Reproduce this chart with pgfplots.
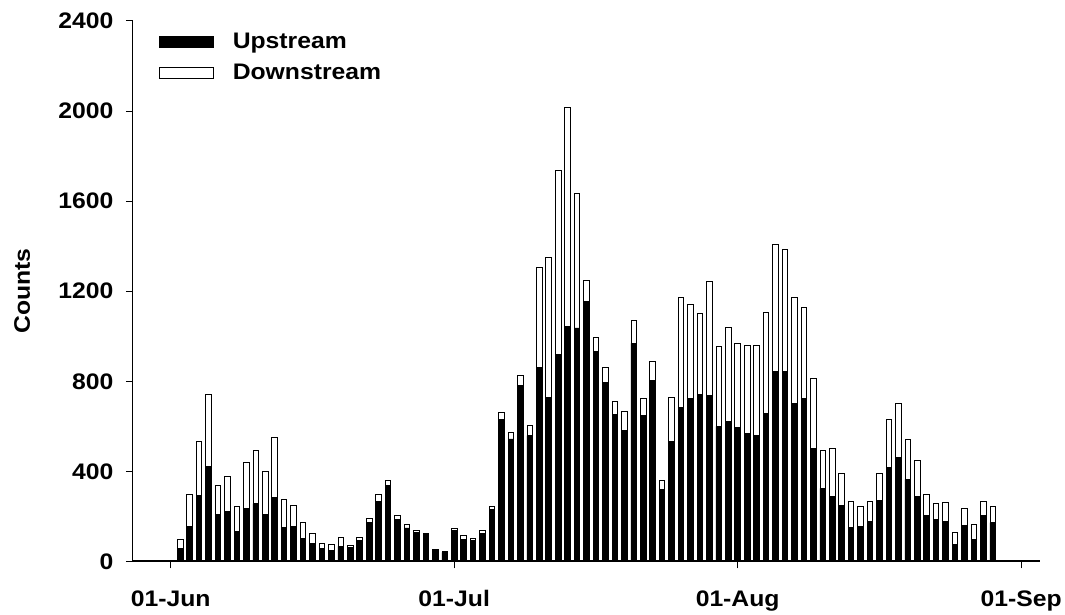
\documentclass[border=0pt]{standalone}
\usepackage{fontspec}
\setmainfont{Liberation Sans}[FakeStretch=1.1]
\usepackage{pgfplots}
\usepackage{pgfplotstable}
\pgfplotsset{compat=1.18}
\pgfplotstableread{
d up down
1 58 42
2 157 139
3 293 239
4 421 320
5 208 132
6 222 155
7 133 111
8 237 204
9 257 235
10 208 190
11 285 268
12 152 123
13 157 90
14 102 70
15 80 43
16 58 22
17 50 24
18 67 42
19 64 7
20 93 12
21 172 20
22 266 34
23 336 25
24 186 17
25 149 14
26 127 9
27 120 3
28 52 1
29 41 6
30 139 7
31 98 16
32 95 8
33 124 12
34 231 14
35 630 32
36 544 27
37 781 47
38 559 47
39 861 445
40 727 624
41 918 819
42 1042 973
43 1037 598
44 1153 93
45 932 65
46 796 65
47 652 59
48 583 82
49 969 102
50 649 77
51 804 85
52 319 39
53 532 195
54 685 486
55 725 417
56 741 362
57 736 509
58 600 355
59 621 420
60 595 373
61 568 393
62 559 402
63 658 450
64 843 566
65 843 543
66 702 472
67 723 407
68 501 312
69 325 170
70 290 210
71 247 142
72 151 115
73 157 88
74 179 88
75 272 117
76 418 213
77 461 243
78 365 179
79 290 159
80 206 94
81 188 68
82 177 85
83 74 53
84 161 73
85 98 65
86 204 64
87 173 71
}\data
\newcommand{\lblfont}{\fontsize{22.5bp}{26bp}\selectfont\bfseries}
\begin{document}
\begin{tikzpicture}
\begin{axis}[
  name=ax,
  scale only axis, width=908bp, height=541bp,
  xmin=-4, xmax=92, ymin=0, ymax=2400,
  enlargelimits=false,
  axis x line=bottom, axis y line=left,
  axis line style={-, black},
  x axis line style={line width=2bp},
  y axis line style={line width=1bp},
  tick align=outside, major tick length=7bp,
  tick style={line width=1bp, black},
  xtick={0,30,60,90},
  xticklabels={01-Jun,01-Jul,01-Aug,01-Sep},
  ytick={0,400,...,2400},
  /pgf/number format/assume math mode=true,
  /pgf/number format/1000 sep={},
  ticklabel style={font=\lblfont},
  xticklabel style={anchor=base, yshift=-38bp},
  yticklabel style={anchor=east, xshift=-9bp},
  ylabel={Counts},
  ylabel style={font=\lblfont, at={(axis description cs:-0.1222,0.5)}, anchor=center},
  ybar stacked, bar width=5.6bp,
  legend style={at={(axis description cs:0,1)}, anchor=north west,
    xshift=26bp, yshift=-12bp, draw=none, fill=none, font=\lblfont,
    inner sep=0pt, nodes={inner sep=0pt}, row sep=14bp,
    /tikz/every odd column/.style={column sep=19bp}},
  legend cell align=left,
]
\addplot[fill=black, draw=black, line width=0.8bp,
  legend image code/.code={\draw[fill=black,draw=black,line width=0.8bp] (0bp,-5.5bp) rectangle (54bp,5.5bp);}]
  table[x=d, y=up]{\data};
\addlegendentry{Upstream}
\addplot[fill=white, draw=black, line width=0.8bp,
  legend image code/.code={\draw[fill=white,draw=black,line width=0.8bp] (0bp,-5.5bp) rectangle (54bp,5.5bp);}]
  table[x=d, y=down]{\data};
\addlegendentry{Downstream}
\end{axis}
\path ([xshift=-133bp,yshift=-51bp]ax.south west) rectangle ([xshift=24bp,yshift=21bp]ax.north east);
\end{tikzpicture}
\end{document}
